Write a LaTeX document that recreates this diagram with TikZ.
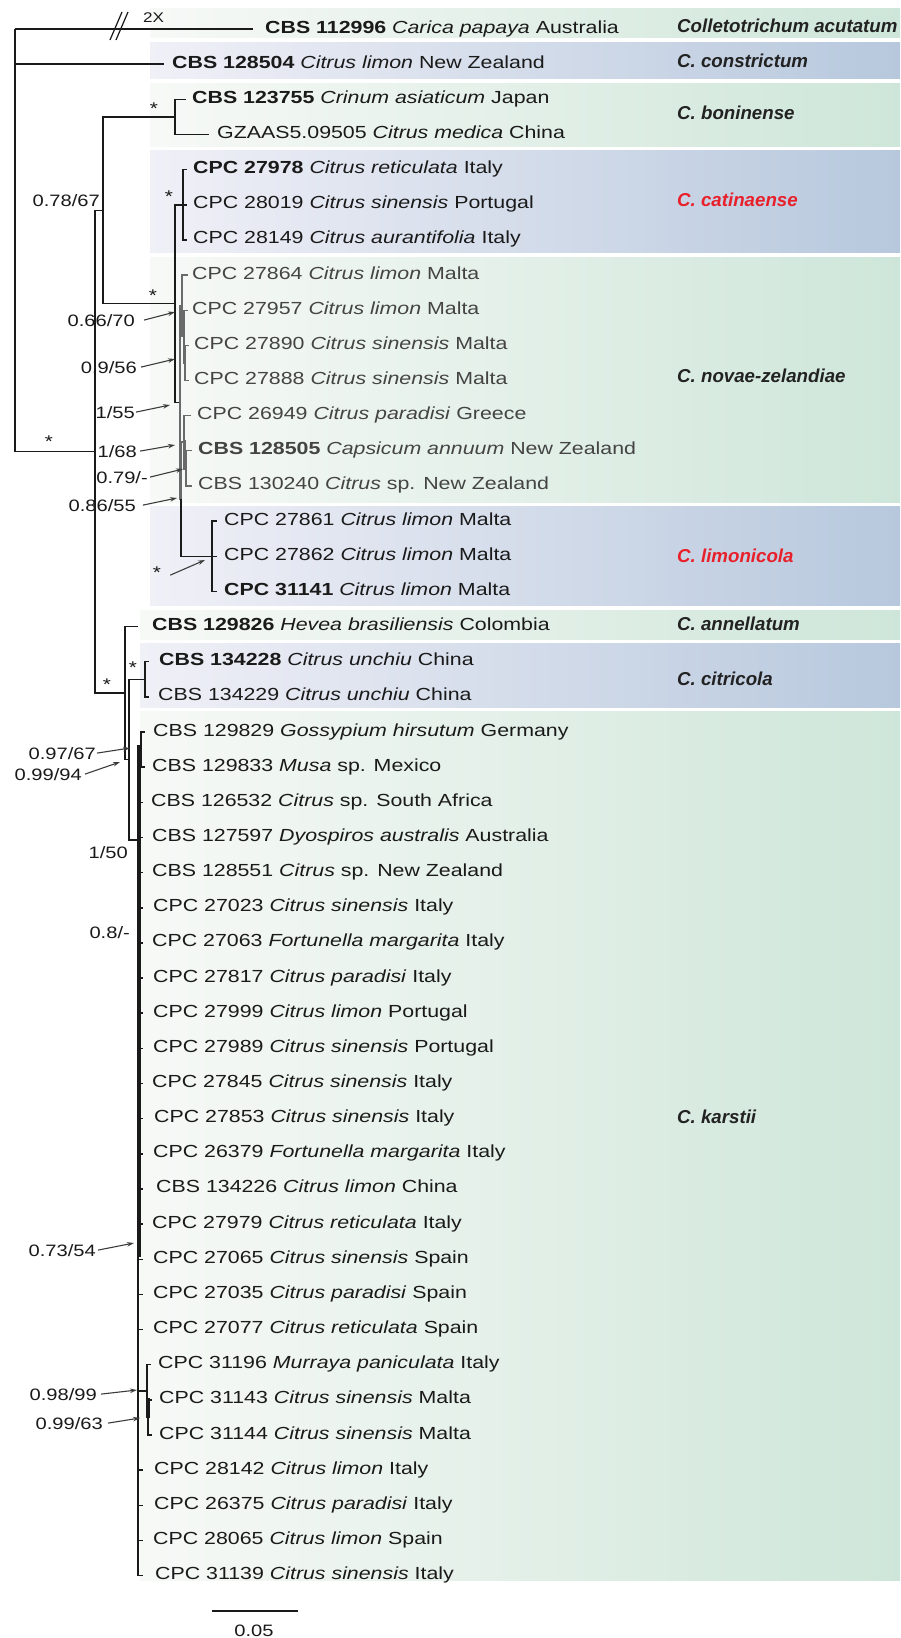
\documentclass[tikz,border=0pt]{standalone}
\usepackage{fontspec}
\setmainfont{Liberation Sans}[FakeStretch=1.22]
\newfontfamily\cladefont{Liberation Sans}
\usetikzlibrary{arrows.meta}
\definecolor{ink}{HTML}{1A1A1A}
\definecolor{nzgray}{HTML}{444444}
\definecolor{brgray}{HTML}{6A6A6A}
\definecolor{gL}{RGB}{247,249,247}
\definecolor{gR}{RGB}{206,230,217}
\definecolor{bL}{RGB}{240,240,247}
\definecolor{bR}{RGB}{183,200,221}
\definecolor{cred}{HTML}{E8202A}
\definecolor{clabel}{HTML}{222222}
\newcommand\taxon[5][taxon]{%
  \coordinate (l#2) at (#3,{26.5+(#2-1)*35.15+2.5});
  \node[#1] (t#2) at (#4,{26.5+(#2-1)*35.15+6.5}) {#5};}
\begin{document}
\begin{tikzpicture}[x=1pt,y=-1pt,
  taxon/.style={anchor=base west, inner sep=0pt, font=\fontsize{17.5}{21}\selectfont, text=ink},
  nzt/.style={taxon, text=nzgray},
  clade/.style={anchor=base west, inner sep=0pt, font=\cladefont\fontsize{18.7}{22}\selectfont\bfseries\itshape, text=clabel},
  supp/.style={anchor=base east, inner sep=0pt, font=\fontsize{16.5}{19}\selectfont, text=ink},
  star/.style={anchor=base, inner sep=0pt, font=\fontsize{17}{19}\selectfont, text=ink},
  br/.style={line width=1.5pt, draw=ink},
  nzbr/.style={line width=1.3pt, draw=brgray},
  ptr/.style={-{Stealth[length=7pt,width=4.5pt]}, line width=1.1pt, draw=ink!85},
  band/.style={draw=none}]
\useasboundingbox (0,0) rectangle (900,1638);
\fill[white] (0,0) rectangle (900,1638);
% background bands
\shade[band,left color=gL,right color=gR] (150,8) rectangle (900,37);
\shade[band,left color=bL,right color=bR] (150,42) rectangle (900,78);
\shade[band,left color=gL,right color=gR] (150,83) rectangle (900,146);
\shade[band,left color=bL,right color=bR] (150,150) rectangle (900,252);
\shade[band,left color=gL,right color=gR] (150,257) rectangle (900,502);
\shade[band,left color=bL,right color=bR] (150,506) rectangle (900,605);
\shade[band,left color=gL,right color=gR] (140,610) rectangle (900,639);
\shade[band,left color=bL,right color=bR] (140,643) rectangle (900,707);
\shade[band,left color=gL,right color=gR] (140,711) rectangle (900,1580);
% taxa
\taxon{1}{253}{265}{\textbf{CBS 112996} \textit{Carica papaya} Australia}
\taxon{2}{164}{172}{\textbf{CBS 128504} \textit{Citrus limon} New Zealand}
\taxon{3}{186}{192}{\textbf{CBS 123755} \textit{Crinum asiaticum} Japan}
\taxon{4}{209}{217}{GZAAS5.09505 \textit{Citrus medica} China}
\taxon{5}{187}{193}{\textbf{CPC 27978} \textit{Citrus reticulata} Italy}
\taxon{6}{187}{193}{CPC 28019 \textit{Citrus sinensis} Portugal}
\taxon{7}{187}{193}{CPC 28149 \textit{Citrus aurantifolia} Italy}
\taxon[nzt]{8}{188}{192}{CPC 27864 \textit{Citrus limon} Malta}
\taxon[nzt]{9}{188}{192}{CPC 27957 \textit{Citrus limon} Malta}
\taxon[nzt]{10}{189}{194}{CPC 27890 \textit{Citrus sinensis} Malta}
\taxon[nzt]{11}{189}{194}{CPC 27888 \textit{Citrus sinensis} Malta}
\taxon[nzt]{12}{191}{197}{CPC 26949 \textit{Citrus paradisi} Greece}
\taxon[nzt]{13}{192}{198}{\textbf{CBS 128505} \textit{Capsicum annuum} New Zealand}
\taxon[nzt]{14}{192}{198}{CBS 130240 \textit{Citrus} sp. New Zealand}
\taxon{15}{217}{224}{CPC 27861 \textit{Citrus limon} Malta}
\taxon{16}{217}{224}{CPC 27862 \textit{Citrus limon} Malta}
\taxon{17}{217}{224}{\textbf{CPC 31141} \textit{Citrus limon} Malta}
\taxon{18}{138}{152}{\textbf{CBS 129826} \textit{Hevea brasiliensis} Colombia}
\taxon{19}{149}{159}{\textbf{CBS 134228} \textit{Citrus unchiu} China}
\taxon{20}{149}{158}{CBS 134229 \textit{Citrus unchiu} China}
\taxon{21}{145}{153}{CBS 129829 \textit{Gossypium hirsutum} Germany}
\taxon{22}{145}{152}{CBS 129833 \textit{Musa} sp. Mexico}
\taxon{23}{143}{151}{CBS 126532 \textit{Citrus} sp. South Africa}
\taxon{24}{143}{152}{CBS 127597 \textit{Dyospiros australis} Australia}
\taxon{25}{143}{152}{CBS 128551 \textit{Citrus} sp. New Zealand}
\taxon{26}{143}{153}{CPC 27023 \textit{Citrus sinensis} Italy}
\taxon{27}{143}{152}{CPC 27063 \textit{Fortunella margarita} Italy}
\taxon{28}{143}{153}{CPC 27817 \textit{Citrus paradisi} Italy}
\taxon{29}{143}{153}{CPC 27999 \textit{Citrus limon} Portugal}
\taxon{30}{143}{153}{CPC 27989 \textit{Citrus sinensis} Portugal}
\taxon{31}{143}{152}{CPC 27845 \textit{Citrus sinensis} Italy}
\taxon{32}{143}{154}{CPC 27853 \textit{Citrus sinensis} Italy}
\taxon{33}{143}{153}{CPC 26379 \textit{Fortunella margarita} Italy}
\taxon{34}{143}{156}{CBS 134226 \textit{Citrus limon} China}
\taxon{35}{143}{152}{CPC 27979 \textit{Citrus reticulata} Italy}
\taxon{36}{143}{153}{CPC 27065 \textit{Citrus sinensis} Spain}
\taxon{37}{143}{153}{CPC 27035 \textit{Citrus paradisi} Spain}
\taxon{38}{143}{153}{CPC 27077 \textit{Citrus reticulata} Spain}
\taxon{39}{151}{158}{CPC 31196 \textit{Murraya paniculata} Italy}
\taxon{40}{152}{159}{CPC 31143 \textit{Citrus sinensis} Malta}
\taxon{41}{152}{159}{CPC 31144 \textit{Citrus sinensis} Malta}
\taxon{42}{143}{154}{CPC 28142 \textit{Citrus limon} Italy}
\taxon{43}{143}{154}{CPC 26375 \textit{Citrus paradisi} Italy}
\taxon{44}{143}{153}{CPC 28065 \textit{Citrus limon} Spain}
\taxon{45}{143}{155}{CPC 31139 \textit{Citrus sinensis} Italy}
% internal nodes
\coordinate (R) at (15,29);
\coordinate (A) at (95,451.7);
\coordinate (B) at (103,210.3);
\coordinate (E) at (175,116.9);
\coordinate (D) at (175,303.6);
\coordinate (Cat) at (183,204.75);
\coordinate (G) at (180,402.5);
\coordinate (H) at (182,305.8);
\coordinate (H2) at (184,336.6);
\coordinate (H3) at (185,362.9);
\coordinate (K) at (181,499.1);
\coordinate (N2) at (184,442);
\coordinate (N3) at (186,468.4);
\coordinate (Lim) at (212,556.25);
\coordinate (C) at (125,693.1);
\coordinate (I) at (129,759.6);
\coordinate (Cit) at (145,679.3);
\coordinate (J) at (138,840);
\coordinate (kA) at (141,749.6);
\coordinate (kS) at (147,1391);
\coordinate (kS2) at (148,1417.4);
% branches
\draw[br] (R) |- (l1);
\draw[br] (R) |- (l2);
\draw[br] (R) |- (A);
\draw[br] (A) |- (B);
\draw[br] (A) |- (C);
\draw[br] (B) |- (E);
\draw[br] (B) |- (D);
\draw[br] (E) |- (l3);
\draw[br] (E) |- (l4);
\draw[br] (D) |- (Cat);
\draw[br] (D) |- (G);
\draw[br] (Cat) |- (l5);
\draw[br] (Cat) |- (l6);
\draw[br] (Cat) |- (l7);
\draw[nzbr] (G) |- (H);
\draw[nzbr] (G) |- (K);
\draw[nzbr] (H) |- (l8);
\draw[nzbr] (H) |- (H2);
\draw[nzbr] (H2) |- (l9);
\draw[nzbr] (H2) |- (H3);
\draw[nzbr] (H3) |- (l10);
\draw[nzbr] (H3) |- (l11);
\draw[nzbr] (K) |- (N2);
\draw[nzbr] (N2) |- (l12);
\draw[nzbr] (N2) |- (N3);
\draw[nzbr] (N3) |- (l13);
\draw[nzbr] (N3) |- (l14);
\draw[br] (K) |- (Lim);
\draw[br] (Lim) |- (l15);
\draw[br] (Lim) |- (l16);
\draw[br] (Lim) |- (l17);
\draw[br] (C) |- (l18);
\draw[br] (C) |- (I);
\draw[br] (I) |- (Cit);
\draw[br] (I) |- (J);
\draw[br] (Cit) |- (l19);
\draw[br] (Cit) |- (l20);
\draw[br] (J) |- (kA);
\draw[br] (kA) |- (l21);
\draw[br] (kA) |- (l22);
\foreach \i in {23,...,38,42,43,44,45} {\draw[br] (J) |- (l\i);}
\draw[br] (J) |- (kS);
\draw[br] (kS) |- (l39);
\draw[br] (kS) |- (kS2);
\draw[br] (kS2) |- (l40);
\draw[br] (kS2) |- (l41);
% thick collapsed stretches
\coordinate (th1) at (139,745);
\coordinate (th2) at (139,1257);
\draw[line width=3.2pt, ink] (th1) -- (th2);
\coordinate (th3) at (148,1398);
\coordinate (th4) at (148,1418);
\draw[line width=3pt, ink] (th3) -- (th4);
\coordinate (th5) at (184.5,440);
\coordinate (th6) at (184.5,470);
\draw[line width=2.4pt, brgray] (th5) -- (th6);
% break marks on outgroup
\coordinate (bk1) at (110,40); \coordinate (bk2) at (122,12);
\coordinate (bk3) at (116,40); \coordinate (bk4) at (128,12);
\draw[line width=1.2pt, ink] (bk1) -- (bk2);
\draw[line width=1.2pt, ink] (bk3) -- (bk4);
\node[anchor=base west, inner sep=0pt, font=\fontsize{14}{16}\selectfont, text=ink] (twox) at (143,23) {2X};
% clade labels
\node[clade] (c1) at (677,32.7) {Colletotrichum acutatum};
\node[clade] (c2) at (677,67.7) {C. constrictum};
\node[clade] (c3) at (677,119.7) {C. boninense};
\node[clade, text=cred] (c4) at (677,206.7) {C. catinaense};
\node[clade] (c5) at (677,382.7) {C. novae-zelandiae};
\node[clade, text=cred] (c6) at (677,562.7) {C. limonicola};
\node[clade] (c7) at (677,630.7) {C. annellatum};
\node[clade] (c8) at (677,685.7) {C. citricola};
\node[clade] (c9) at (677,1123.7) {C. karstii};
% support values
\node[star] (st1) at (49,447) {*};
\node[star] (st2) at (154,114) {*};
\node[star] (st3) at (169,202) {*};
\node[star] (st4) at (153,301) {*};
\node[star] (st5) at (107,690) {*};
\node[star] (st6) at (133,673) {*};
\node[star] (st7) at (157,578) {*};
\node[supp] (s1) at (100,206) {0.78/67};
\node[supp] (s2) at (135,326) {0.66/70};
\node[supp] (s3) at (137,373) {0.9/56};
\node[supp] (s4) at (135,418) {1/55};
\node[supp] (s5) at (137,457) {1/68};
\node[supp] (s6) at (148,483) {0.79/-};
\node[supp] (s7) at (136,511) {0.86/55};
\node[supp] (s9) at (96,759) {0.97/67};
\node[supp] (s10) at (82,780) {0.99/94};
\node[supp] (s11) at (128,858) {1/50};
\node[supp] (s12) at (130,938) {0.8/-};
\node[supp] (s13) at (96,1256) {0.73/54};
\node[supp] (s14) at (97,1400) {0.98/99};
\node[supp] (s15) at (103,1429) {0.99/63};
% arrow targets
\coordinate (p2) at (175,312);
\coordinate (p3) at (175,359);
\coordinate (p4) at (170,405);
\coordinate (p5) at (175,445);
\coordinate (p6) at (183,469);
\coordinate (p7) at (177,498);
\coordinate (p8) at (205,560);
\coordinate (p9) at (130,748);
\coordinate (p10) at (120,762);
\coordinate (p13) at (134,1243);
\coordinate (p14) at (137,1390);
\coordinate (p15) at (140,1418);
\draw[ptr] ([xshift=9pt]s2.east) -- (p2);
\draw[ptr] ([xshift=4pt]s3.east) -- (p3);
\draw[ptr] ([xshift=1pt]s4.east) -- (p4);
\draw[ptr] ([xshift=3pt]s5.east) -- (p5);
\draw[ptr] ([xshift=2pt]s6.east) -- (p6);
\draw[ptr] ([xshift=7pt]s7.east) -- (p7);
\draw[ptr] ([xshift=9pt,yshift=-3pt]st7.east) -- (p8);
\draw[ptr] ([xshift=1pt]s9.east) -- (p9);
\draw[ptr] ([xshift=3pt]s10.east) -- (p10);
\draw[ptr] ([xshift=2pt]s13.east) -- (p13);
\draw[ptr] ([xshift=4pt]s14.east) -- (p14);
\draw[ptr] ([xshift=5pt]s15.east) -- (p15);
% scale bar
\coordinate (sb1) at (212,1611);
\coordinate (sb2) at (298,1611);
\draw[line width=1.5pt, ink] (sb1) -- (sb2);
\node[anchor=base, inner sep=0pt, font=\fontsize{16.5}{19}\selectfont, text=ink] (sbl) at (254,1636) {0.05};
\end{tikzpicture}
\end{document}
